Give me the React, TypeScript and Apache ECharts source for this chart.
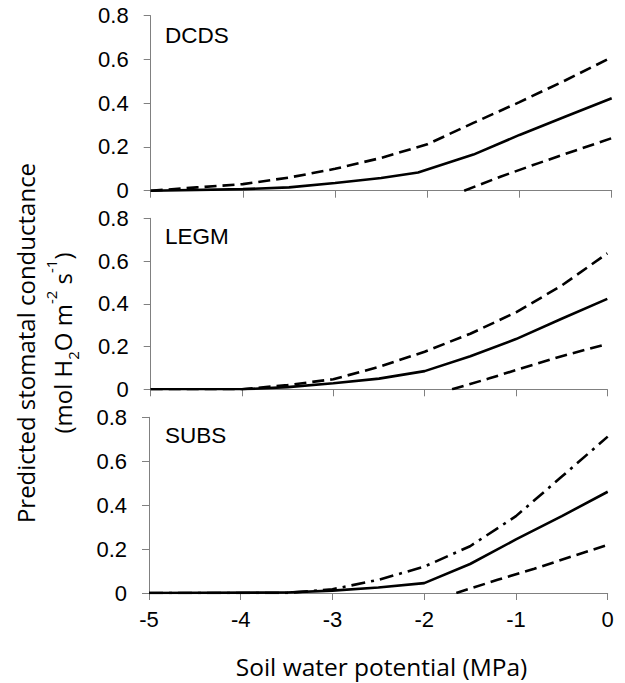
import React, { useEffect, useRef } from "react";
import * as echarts from "echarts";

// ---- Data ----
const panelNames = ["DCDS", "LEGM", "SUBS"];

// DCDS
const dcdsMidX = [-5, -4, -3.5, -3, -2.5, -2.1, -1.5, -1, -0.5, 0];
const dcdsMidY = [0, 0.007, 0.015, 0.035, 0.058, 0.083, 0.165, 0.255, 0.339, 0.423];
const dcdsUpX = [-5, -4.5, -4, -3.5, -3, -2.5, -2, -1.5, -1, -0.5, 0];
const dcdsUpY = [0, 0.015, 0.03, 0.06, 0.1, 0.15, 0.212, 0.31, 0.405, 0.505, 0.61];
const dcdsLoX = [-1.6, -1.2, -0.8, -0.4, 0];
const dcdsLoY = [0, 0.065, 0.125, 0.183, 0.24];

// LEGM
const legmMidX = [-5, -4, -3.5, -3, -2.5, -2, -1.5, -1, -0.5, 0];
const legmMidY = [0, 0, 0.01, 0.028, 0.05, 0.085, 0.155, 0.235, 0.33, 0.423];
const legmUpX = [-5, -4, -3.5, -3, -2.5, -2, -1.5, -1, -0.5, 0];
const legmUpY = [0, 0, 0.02, 0.047, 0.105, 0.176, 0.26, 0.36, 0.485, 0.636];
const legmLoX = [-1.7, -1.3, -1, -0.5, 0];
const legmLoY = [0, 0.05, 0.09, 0.155, 0.212];

// SUBS
const subsMidX = [-5, -3.5, -3, -2.5, -2, -1.5, -1, -0.5, 0];
const subsMidY = [0, 0.002, 0.011, 0.025, 0.045, 0.132, 0.244, 0.35, 0.461];
const subsUpX = [-5, -3.5, -3, -2.5, -2, -1.5, -1, -0.5, 0];
const subsUpY = [0, 0, 0.017, 0.06, 0.12, 0.213, 0.35, 0.53, 0.712];
const subsLoX = [-1.65, -1.2, -0.8, -0.4, 0];
const subsLoY = [0, 0.06, 0.11, 0.165, 0.219];

const xTicks = [-5, -4, -3, -2, -1, 0];
const yTicks = [0, 0.2, 0.4, 0.6, 0.8];

const zip = (xs: number[], ys: number[]) => xs.map((x, i) => [x, ys[i]]);

const grids = [
  { left: 150.7, right: 13.3, top: 15.7, height: 175 },
  { left: 150.7, right: 17.7, top: 218.3, height: 171 },
  { left: 149, right: 17.3, top: 417.3, height: 175.7 },
];

const AXIS = "#808080";
const TICK_FONT = "Liberation Sans";
const TITLE_FONT = "Open Sans";

export default function App() {
  const ref = useRef<HTMLDivElement>(null);
  useEffect(() => {
    if (!ref.current) return;
    const chart = echarts.init(ref.current, undefined, { renderer: "svg" });

    const panels = [
      { mid: zip(dcdsMidX, dcdsMidY), up: zip(dcdsUpX, dcdsUpY), lo: zip(dcdsLoX, dcdsLoY), upType: [12, 6] as any },
      { mid: zip(legmMidX, legmMidY), up: zip(legmUpX, legmUpY), lo: zip(legmLoX, legmLoY), upType: [12, 6] as any },
      { mid: zip(subsMidX, subsMidY), up: zip(subsUpX, subsUpY), lo: zip(subsLoX, subsLoY), upType: [14, 6, 3, 6] as any },
    ];

    const xAxis = grids.map((_, i) => ({
      type: "value",
      gridIndex: i,
      min: xTicks[0],
      max: xTicks[xTicks.length - 1],
      interval: 1,
      axisLine: { show: true, onZero: false, lineStyle: { color: AXIS, width: 1 } },
      axisTick: { show: true, inside: false, length: 7, lineStyle: { color: AXIS } },
      axisLabel: {
        show: i === 2,
        margin: 15,
        fontFamily: TICK_FONT,
        fontSize: 22,
        color: "#000",
      },
      splitLine: { show: false },
    }));

    const yAxis = grids.map((_, i) => ({
      type: "value",
      gridIndex: i,
      min: yTicks[0],
      max: yTicks[yTicks.length - 1],
      interval: 0.2,
      axisLine: { show: true, onZero: false, lineStyle: { color: AXIS, width: 1 } },
      axisTick: { show: true, inside: false, length: 7, lineStyle: { color: AXIS } },
      axisLabel: {
        margin: 22,
        fontFamily: TICK_FONT,
        fontSize: 22,
        color: "#000",
      },
      splitLine: { show: false },
    }));

    const series: any[] = [];
    panels.forEach((p, i) => {
      series.push({
        type: "line", xAxisIndex: i, yAxisIndex: i, data: p.lo, showSymbol: false,
        lineStyle: { color: "#000", width: 2.6, type: [12, 6] }, z: 3,
      });
      series.push({
        type: "line", xAxisIndex: i, yAxisIndex: i, data: p.up, showSymbol: false,
        lineStyle: { color: "#000", width: 2.6, type: p.upType }, z: 3,
      });
      series.push({
        type: "line", xAxisIndex: i, yAxisIndex: i, data: p.mid, showSymbol: false,
        lineStyle: { color: "#000", width: 2.6, type: "solid" }, z: 4,
      });
    });

    const labelY = [35, 236.7, 435.7];
    const graphic: any[] = panelNames.map((n, i) => ({
      type: "text",
      x: 165,
      y: labelY[i],
      style: {
        text: n,
        fontFamily: TICK_FONT,
        fontSize: 22.5,
        fill: "#000",
        textAlign: "left",
        textVerticalAlign: "middle",
        align: "left",
        verticalAlign: "middle",
      },
    }));
    graphic.push({
      type: "text",
      x: 381.5,
      y: 666.7,
      style: {
        text: "Soil water potential (MPa)",
        fontFamily: TITLE_FONT,
        fontSize: 24.5,
        fill: "#000",
        textAlign: "center",
        textVerticalAlign: "middle",
        align: "center",
        verticalAlign: "middle",
      },
    });
    graphic.push({
      type: "text",
      x: 43.5,
      y: 343,
      rotation: Math.PI / 2,
      style: {
        text:
          "{a|Predicted stomatal conductance}\n{a|(mol H}{sub|2}{a|O m}{sup|-2}{a| s}{sup|-1}{a|)}",
        fill: "#000",
        textAlign: "center",
        textVerticalAlign: "middle",
        align: "center",
        verticalAlign: "middle",
        rich: {
          a: { fontFamily: TITLE_FONT, fontSize: 24, lineHeight: 37, fill: "#000", color: "#000" },
          sub: { fontFamily: TITLE_FONT, fontSize: 15, lineHeight: 23, verticalAlign: "bottom", fill: "#000", color: "#000" },
          sup: { fontFamily: TITLE_FONT, fontSize: 15, lineHeight: 33, verticalAlign: "top", fill: "#000", color: "#000" },
        },
      },
    });

    chart.setOption({
      animation: false,
      backgroundColor: "#fff",
      grid: grids.map((g) => ({ ...g, containLabel: false })),
      xAxis,
      yAxis,
      series,
      graphic,
    });
    return () => chart.dispose();
  }, []);
  return (
    <div
      ref={ref}
      style={{ position: "absolute", left: 0, top: 0, width: 625, height: 683 }}
    />
  );
}
